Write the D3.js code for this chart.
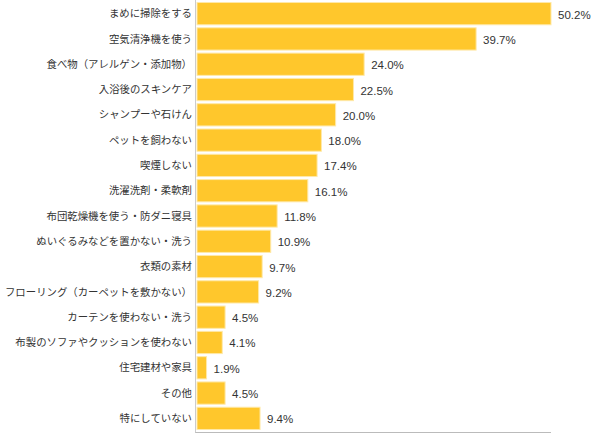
<!DOCTYPE html>
<html><head><meta charset="utf-8">
<script src="https://cdn.jsdelivr.net/npm/d3@7"></script>
<style>body{margin:0;background:#fff}svg{display:block}</style>
</head><body>
<svg id="c" width="600" height="437"></svg>
<script>
const categories = ["まめに掃除をする","空気清浄機を使う","食べ物（アレルゲン・添加物）","入浴後のスキンケア","シャンプーや石けん","ペットを飼わない","喫煙しない","洗濯洗剤・柔軟剤","布団乾燥機を使う・防ダニ寝具","ぬいぐるみなどを置かない・洗う","衣類の素材","フローリング（カーペットを敷かない）","カーテンを使わない・洗う","布製のソファやクッションを使わない","住宅建材や家具","その他","特にしていない"];
const values = [50.2,39.7,24.0,22.5,20.0,18.0,17.4,16.1,11.8,10.9,9.7,9.2,4.5,4.1,1.9,4.5,9.4];

const svg = d3.select("#c");
const axisX = 195.5;
const barX = 197;
const x = d3.scaleLinear().domain([0, 50.2]).range([193, 551]);
const y = d3.scaleBand().domain(categories).range([1, 431]).paddingInner(0.12).paddingOuter(0.06);

svg.selectAll("rect.bar").data(categories).join("rect")
  .attr("class","bar")
  .attr("x", barX)
  .attr("y", d => y(d))
  .attr("width", (d,i) => x(values[i]) - barX)
  .attr("height", y.bandwidth())
  .attr("fill", "#FFC72C")
  .attr("stroke", "#FFE9A8").attr("stroke-width", 1);

svg.selectAll("text.lab").data(categories).join("text")
  .attr("class","lab")
  .attr("x", 192)
  .attr("y", d => y(d) + y.bandwidth()/2)
  .attr("dy", "0.35em")
  .attr("text-anchor", "end")
  .attr("font-family", "'Noto Sans CJK JP', sans-serif")
  .attr("font-size", 10.4)
  .attr("fill", "#333")
  .text(d => d);

svg.selectAll("text.val").data(categories).join("text")
  .attr("class","val")
  .attr("x", (d,i) => x(values[i]) + 7)
  .attr("y", d => y(d) + y.bandwidth()/2 + 1)
  .attr("dy", "0.35em")
  .attr("font-family", "'Liberation Sans', Arial, sans-serif")
  .attr("font-size", 11.5)
  .attr("fill", "#333")
  .text((d,i) => values[i].toFixed(1) + "%");

svg.append("line").attr("x1", axisX).attr("x2", axisX).attr("y1", 0).attr("y2", 433)
  .attr("stroke", "#ccc");
svg.append("line").attr("x1", axisX).attr("x2", x(50.2)).attr("y1", 432.5).attr("y2", 432.5)
  .attr("stroke", "#bbb");
</script>
</body></html>
